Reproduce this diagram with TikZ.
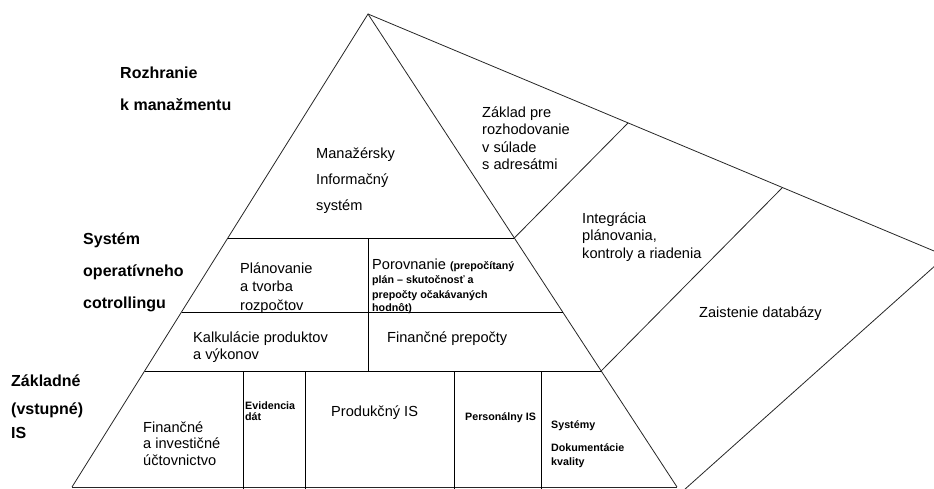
\documentclass[tikz,border=0pt]{standalone}
\usepackage{fontspec}
\setmainfont{Liberation Sans}
\newcommand\smallbf{\bfseries\fontsize{10.7}{14.5}\selectfont}
\begin{document}
\begin{tikzpicture}[x=1pt,y=-1pt,
  edge/.style={draw=black!85,line width=0.8pt},
  lvl/.style={font=\bfseries\fontsize{16}{32}\selectfont,align=left,anchor=base west,inner sep=0pt},
  txt/.style={font=\fontsize{14.6}{17.5}\selectfont,align=left,anchor=base west,inner sep=0pt},
  small/.style={font=\smallbf,align=left,anchor=base west,inner sep=0pt}]
\useasboundingbox (0,0) rectangle (934,488);
\clip (0,0) rectangle (934,488);

% pyramid corners
\coordinate (apex) at (368,14);
\coordinate (bl) at (72,487);
\coordinate (br) at (677,487);
% wedge on the right
\coordinate (far) at (946,256);
\coordinate (lowend) at (684,490);
\coordinate (t1) at (628,123);
\coordinate (t2) at (782,188);
% level boundaries on the pyramid sides
\coordinate (l1) at (227.8,238);
\coordinate (l2) at (181.5,312);
\coordinate (l3) at (144.5,371);
\coordinate (r1) at (514.3,238);
\coordinate (r2) at (562.6,312);
\coordinate (r3) at (601.1,371);
% inner dividers
\coordinate (m1) at (368,238);
\coordinate (m3) at (368,371);
\coordinate (a1) at (243,371);  \coordinate (a2) at (243,490);
\coordinate (b1) at (305,371);  \coordinate (b2) at (305,490);
\coordinate (c1) at (454,371);  \coordinate (c2) at (454,490);
\coordinate (d1) at (541,371);  \coordinate (d2) at (541,490);

% outlines
\draw[edge] (bl) -- (apex) -- (br);
\draw[edge] (bl) -- (br);
\draw[edge] (apex) -- (far) -- (lowend);
\draw[edge] (r1) -- (t1);
\draw[edge] (r3) -- (t2);
% levels
\draw[edge,draw=black] (l1) -- (r1);
\draw[edge,draw=black] (l2) -- (r2);
\draw[edge,draw=black] (l3) -- (r3);
\draw[edge,draw=black] (m1) -- (m3);
\draw[edge,draw=black] (a1) -- (a2);
\draw[edge,draw=black] (b1) -- (b2);
\draw[edge,draw=black] (c1) -- (c2);
\draw[edge,draw=black] (d1) -- (d2);

% level labels (positions give the baseline of the last line)
\node[lvl] (rozhr) at (120,110.8) {Rozhranie\\k manažmentu};
\node[lvl] (opctrl) at (83,308) {Systém\\operatívneho\\cotrollingu};
\node[lvl,font=\bfseries\fontsize{16}{28}\selectfont] (zakl) at (11,438) {Základné\\(vstupné)\\[-4pt]IS};

% pyramid contents
\node[txt,font=\fontsize{14.6}{26}\selectfont] (mis) at (316,210) {Manažérsky\\Informačný\\systém};
\node[txt,font=\fontsize{14.6}{18.5}\selectfont] (plan) at (240,310) {Plánovanie\\a tvorba\\rozpočtov};
\node[txt,font=\fontsize{14.6}{14.5}\selectfont] (porov) at (372,311)
  {Porovnanie {\smallbf (prepočítaný}\\{\smallbf plán – skutočnosť a}\\{\smallbf prepočty očakávaných}\\[-1.5pt]{\smallbf hodnôt)}};
\node[txt,font=\fontsize{14.6}{17}\selectfont] (kalk) at (193,359) {Kalkulácie produktov\\a výkonov};
\node[txt] (finp) at (387,342) {Finančné prepočty};
\node[txt,font=\fontsize{14.6}{16.5}\selectfont] (uct) at (143,465) {Finančné\\a investičné\\účtovnictvo};
\node[small,font=\bfseries\fontsize{10.7}{11}\selectfont] (evid) at (245,420) {Evidencia\\dát};
\node[txt] (prod) at (331,416) {Produkčný IS};
\node[small] (pers) at (465,420) {Personálny IS};
\node[small,font=\bfseries\fontsize{10.7}{14}\selectfont] (kval) at (551,465) {Systémy\\[9pt]Dokumentácie\\kvality};

% wedge contents
\node[txt] (zaklad) at (482,169.5) {Základ pre\\rozhodovanie\\v súlade\\s adresátmi};
\node[txt] (integ) at (582,258) {Integrácia\\plánovania,\\kontroly a riadenia};
\node[txt] (db) at (699,317) {Zaistenie databázy};
\end{tikzpicture}
\end{document}
